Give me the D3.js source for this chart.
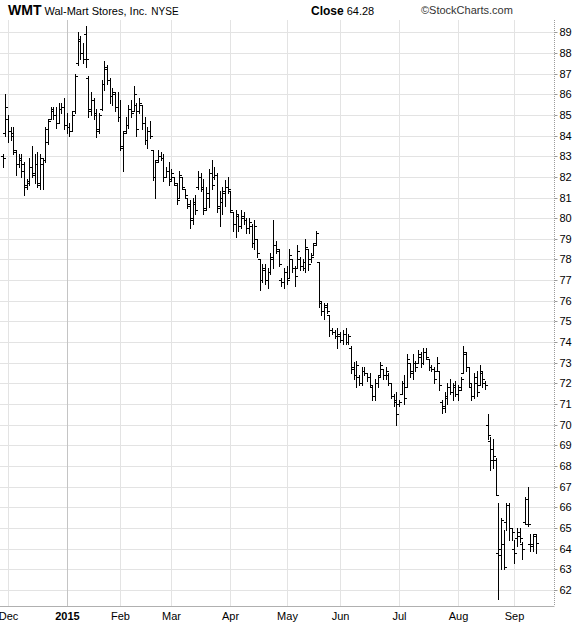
<!DOCTYPE html>
<html><head><meta charset="utf-8">
<script src="https://cdn.jsdelivr.net/npm/d3@7"></script>
<style>
html,body{margin:0;padding:0;background:#fff;}
svg{display:block;font-family:"Liberation Sans",Arial,sans-serif;}
</style></head>
<body>
<svg id="c" width="580" height="623"></svg>
<script>
// ---- data ----
const opens = [83.0,84.1,84.8,84.2,84.0,83.2,82.6,82.9,82.6,81.6,81.8,82.5,82.1,82.6,81.6,82.6,82.8,83.7,84.8,85.2,85.0,84.6,85.3,85.4,84.5,84.4,84.2,85.2,87.5,88.6,88.0,88.9,86.8,85.3,85.7,85.1,84.3,85.3,86.5,87.2,
86.7,85.9,86.0,85.4,84.9,83.4,84.2,84.5,85.3,85.2,85.5,85.2,85.5,84.6,83.8,84.2,83.3,82.0,82.8,83.0,82.9,82.0,82.3,81.9,82.0,81.6,81.0,82.0,81.4,81.0,
80.7,80.0,80.7,81.5,82.0,81.5,80.5,81.0,82.2,82.0,82.1,80.6,80.8,81.2,81.5,81.3,80.3,79.7,80.1,79.6,80.0,79.9,79.5,79.6,78.8,79.0,78.0,77.0,77.5,77.0,
77.4,78.0,78.7,78.4,77.0,76.9,77.4,77.1,78.0,77.6,77.6,78.0,77.7,77.6,78.5,78.0,78.2,78.8,77.9,75.9,75.5,75.7,75.3,74.6,74.5,74.3,74.3,74.1,74.4,74.0,
73.7,72.8,72.4,72.3,72.0,72.6,72.5,72.3,71.8,71.4,72.0,72.4,72.7,72.4,72.4,72.0,71.4,71.2,71.0,71.5,72.0,71.8,73.0,72.5,73.0,73.0,73.3,73.0,73.5,73.2,
72.8,72.7,72.6,72.6,71.1,70.8,71.3,71.8,71.6,71.8,71.5,71.7,72.5,73.4,72.8,71.8,71.4,72.0,71.9,72.5,72.0,70.0,69.2,68.8,68.3,63.8,63.7,64.2,65.3,66.1,
65.0,64.0,64.5,64.6,64.2,65.3,65.2,64.2,64.2,64.7];
const highs = [83.1,86.0,85.0,84.4,84.4,83.3,83.1,83.1,82.7,81.9,82.9,83.5,83.1,83.2,83.1,82.9,84.4,84.8,85.4,85.4,85.4,85.6,85.6,85.8,85.1,84.6,85.2,87.0,89.0,88.8,88.5,89.3,86.9,86.1,85.8,85.3,85.1,86.7,87.6,87.4,
86.8,86.3,86.1,86.1,85.7,84.2,84.9,85.5,85.7,86.4,85.6,85.8,85.5,84.9,84.4,84.7,83.3,82.8,83.3,83.2,83.1,82.5,82.7,82.4,82.0,81.7,82.3,82.0,81.4,81.0,
80.9,81.0,81.1,82.3,82.2,81.9,81.5,82.4,82.8,82.5,82.2,81.3,81.5,81.85,82.0,81.3,80.3,80.4,80.2,80.4,80.3,80.0,80.0,79.7,79.9,79.0,78.0,77.8,77.8,77.6,
78.3,79.9,78.9,78.5,77.1,77.6,77.7,78.5,78.0,77.7,78.7,78.1,78.0,79.0,78.5,78.3,78.8,79.4,77.9,76.0,75.9,75.9,75.3,74.7,74.6,74.7,74.5,74.6,74.7,74.4,
73.8,73.05,73.1,72.4,72.8,72.8,72.5,72.5,71.9,72.2,72.4,73.05,72.7,72.8,72.5,72.0,71.5,71.6,71.2,72.1,72.4,73.4,73.0,73.4,73.1,73.6,73.5,73.7,73.7,73.2,
72.9,72.8,73.3,72.6,71.2,71.6,72.0,72.2,72.0,72.1,71.9,72.3,73.8,73.5,72.8,72.0,72.5,72.6,72.9,72.6,72.1,70.5,69.4,69.3,68.4,66.2,65.5,64.9,66.2,66.2,
65.0,64.4,65.0,65.0,64.3,66.5,67.0,64.7,64.7,64.7];
const lows = [82.5,84.0,83.7,83.8,83.1,82.1,82.5,82.0,81.1,81.4,81.6,82.0,81.7,81.5,81.4,81.4,82.7,83.6,84.8,84.8,84.35,84.6,85.1,84.3,84.1,84.0,84.2,85.1,87.4,87.7,87.5,87.3,84.9,85.0,84.8,83.95,84.1,85.25,86.2,86.5,
85.6,85.5,85.2,84.7,83.3,82.3,84.1,84.35,84.9,85.2,84.0,85.1,84.3,83.6,83.4,83.9,81.85,81.0,82.7,82.8,81.8,82.0,81.6,81.8,81.6,80.7,81.0,81.4,81.0,80.5,
79.5,79.7,80.2,81.4,81.3,80.2,80.4,80.55,81.4,81.9,80.3,79.6,80.2,80.6,81.2,80.3,79.4,79.1,79.4,79.5,79.7,79.3,79.3,78.6,78.5,78.1,76.5,76.9,76.8,76.6,
77.3,77.6,78.3,77.7,76.7,76.6,76.8,77.1,77.4,76.7,77.6,77.5,77.5,77.4,77.5,77.9,78.2,78.7,75.7,75.3,75.1,75.4,74.3,74.4,74.2,73.7,74.0,73.9,73.9,73.9,
72.5,72.2,71.8,71.9,71.9,72.4,72.1,71.85,71.2,71.2,71.8,72.3,72.2,72.2,71.9,71.3,70.9,70.0,70.9,71.5,71.0,71.8,72.3,72.2,72.6,73.0,72.8,72.95,73.2,72.65,
72.6,72.0,72.6,71.7,70.55,70.6,71.0,71.5,71.2,71.4,71.2,71.7,72.5,72.6,71.8,71.2,71.3,71.4,71.9,71.8,71.75,69.3,67.8,67.9,66.6,61.55,63.0,63.0,64.9,64.4,
64.4,63.3,64.1,64.3,63.5,65.2,65.1,63.9,63.9,63.8];
const closes = [82.9,85.4,84.2,84.1,83.3,82.6,82.8,82.3,81.5,81.7,82.5,82.2,82.6,81.7,82.9,82.8,84.3,84.7,85.3,85.0,84.6,85.3,85.4,84.5,84.4,84.2,85.0,86.9,88.7,88.0,87.7,87.7,85.2,85.7,85.0,84.2,85.0,86.5,87.3,86.7,
85.9,86.1,85.4,84.9,83.5,84.1,84.5,85.3,85.1,86.0,84.3,85.6,84.6,83.8,84.2,84.0,82.0,82.7,83.0,82.9,82.0,82.3,81.8,82.2,81.7,80.9,82.1,81.5,81.1,80.6,
79.9,80.8,80.4,82.0,81.4,80.4,81.2,82.2,81.6,82.1,80.5,81.0,81.3,81.5,81.4,80.4,79.7,80.2,79.6,80.1,79.9,79.5,79.8,78.8,79.6,78.3,77.0,77.6,77.0,77.4,
78.1,78.7,78.5,77.8,76.9,77.4,77.0,78.2,77.6,77.2,78.4,77.7,77.9,78.6,77.8,78.1,78.7,79.3,76.0,75.5,75.8,75.5,74.6,74.5,74.3,74.4,74.1,74.4,74.0,74.3,
72.7,72.4,72.9,72.0,72.6,72.5,72.3,71.9,71.4,72.0,72.3,72.9,72.4,72.6,72.0,71.4,71.1,70.5,71.1,72.0,71.3,73.2,72.6,73.0,72.8,73.4,73.0,73.5,73.3,72.8,
72.7,72.2,73.0,71.9,70.9,71.4,71.8,71.6,71.9,71.5,71.8,72.2,73.5,72.8,72.0,71.4,72.3,71.6,72.6,72.2,71.9,69.5,68.3,68.5,66.6,64.0,65.4,63.1,66.1,65.0,
64.8,63.8,64.8,64.5,64.0,66.4,65.2,64.1,64.6,64.28];
const monthIdx = [2,24,44,63,85,106,126,148,170,191];
const monthLabels = ["Dec","2015","Feb","Mar","Apr","May","Jun","Jul","Aug","Sep"];
const priceTicks = d3.range(62,90);

// ---- layout ----
const svg = d3.select("#c");
const L = 0, R = 554, T = 20, B = 606;
const x = d3.scaleLinear().domain([0, opens.length-1]).range([2.5, 535.8]);
const y = d3.scaleLinear().domain([61.218, 89.596]).range([B, T]);
const px = v => Math.round(v) + 0.5;

const g = svg.append("g");
// horizontal grid
g.selectAll("line.hg").data(priceTicks).join("line")
  .attr("x1", L).attr("x2", R)
  .attr("y1", d => px(y(d))).attr("y2", d => px(y(d)))
  .attr("stroke", "#e3e3e3").attr("stroke-width", 1);
// vertical month grid
g.selectAll("line.vg").data(monthIdx).join("line")
  .attr("x1", d => px(x(d))).attr("x2", d => px(x(d)))
  .attr("y1", T).attr("y2", B)
  .attr("stroke", (d,i) => monthLabels[i] === "2015" ? "#c4c4c4" : "#e3e3e3")
  .attr("stroke-width", 1);

// bottom axis line
svg.append("line").attr("x1", L).attr("x2", R+0.5).attr("y1", B+0.5).attr("y2", B+0.5)
  .attr("stroke", "#b0b0b0");
// right axis
const yAxis = d3.axisRight(y).tickValues(priceTicks).tickSize(3).tickPadding(2).tickFormat(d3.format("d"));
const ya = svg.append("g").attr("transform", `translate(${R+0.5},0)`).call(yAxis);
ya.select(".domain").attr("stroke", "#9a9a9a").attr("stroke-dasharray", "1,1").attr("d", `M0,${T}V${B}`);
ya.selectAll(".tick line").attr("stroke", "#9a9a9a");
ya.selectAll(".tick text").attr("font-size", 11).attr("fill", "#000")
  .attr("font-family", "'Liberation Sans', Arial, sans-serif");
ya.selectAll(".tick").attr("transform", d => `translate(0,${px(y(d))})`);

// month labels
svg.selectAll("text.m").data(monthIdx).join("text")
  .attr("x", d => px(x(d))).attr("y", 620)
  .attr("text-anchor", "middle").attr("font-size", 11)
  .attr("font-weight", (d,i) => monthLabels[i] === "2015" ? "bold" : "normal")
  .text((d,i) => monthLabels[i]);

// OHLC bars
const bars = svg.append("g").attr("stroke", "#000").attr("stroke-width", 1);
const idx = d3.range(opens.length);
bars.selectAll("line.hl").data(idx).join("line")
  .attr("x1", i => px(x(i))).attr("x2", i => px(x(i)))
  .attr("y1", i => Math.round(y(highs[i]))).attr("y2", i => Math.round(y(lows[i]))+1);
bars.selectAll("line.o").data(idx).join("line")
  .attr("x1", i => Math.round(x(i))-2).attr("x2", i => Math.round(x(i)))
  .attr("y1", i => px(y(opens[i]))).attr("y2", i => px(y(opens[i])));
bars.selectAll("line.c").data(idx).join("line")
  .attr("x1", i => Math.round(x(i))+1).attr("x2", i => Math.round(x(i))+3)
  .attr("y1", i => px(y(closes[i]))).attr("y2", i => px(y(closes[i])));

// header
const h = svg.append("text").attr("x", 8).attr("y", 15);
h.append("tspan").attr("font-weight", "bold").attr("font-size", 14).text("WMT");
h.append("tspan").attr("font-size", 11).attr("dx", 3).text("Wal-Mart Stores, Inc.");
h.append("tspan").attr("font-size", 10).attr("dx", 4).text("NYSE");
const cl = svg.append("text").attr("x", 311).attr("y", 15);
cl.append("tspan").attr("font-weight", "bold").attr("font-size", 12).text("Close");
cl.append("tspan").attr("font-size", 11).attr("dx", 3).text(closes[closes.length-1].toFixed(2));
svg.append("text").attr("x", 421).attr("y", 14).attr("font-size", 11).attr("fill", "#333")
  .text("©StockCharts.com");
</script>
</body></html>
